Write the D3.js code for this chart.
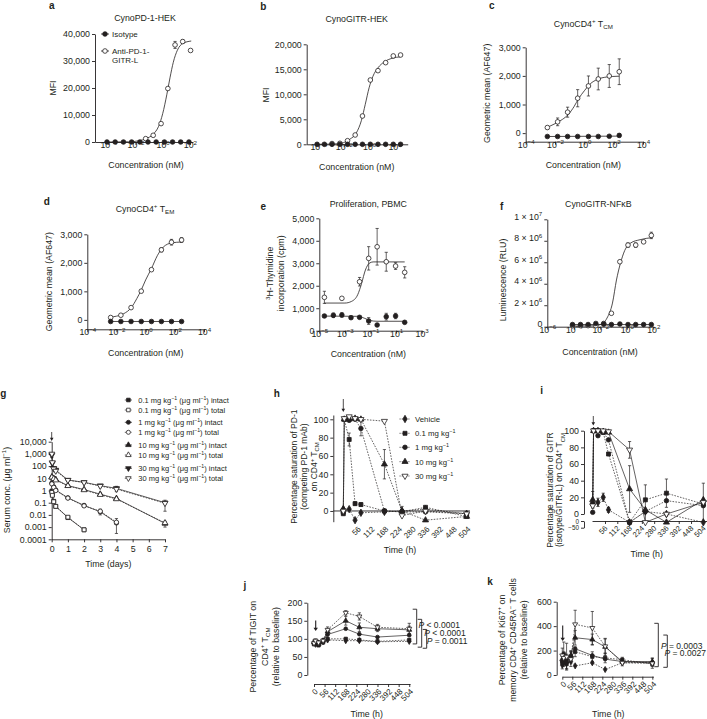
<!DOCTYPE html>
<html>
<head>
<meta charset="utf-8">
<script src="https://cdn.jsdelivr.net/npm/d3@7/dist/d3.min.js"></script>
<style>
  body { margin: 0; background: #fff; }
</style>
</head>
<body>
<script>
const INK = "#231f20";
const FONT = "Liberation Sans, Arial, Helvetica, sans-serif";
const FS = 8.8;

// ---------- data ----------
// a  CynoPD-1-HEK: concentration (nM) vs MFI
const aIsoConc  = [0.00008, 0.00032, 0.0013, 0.0052, 0.021, 0.083, 0.33, 1.33, 5.3, 21, 85];
const aIsoVal   = [0, 0, 0, 0, 0, 0, 0, 0, 0, 0, 0];
const aOpenConc = [0.056, 0.2, 0.76, 2.4, 8.1, 29.5, 112];
const aOpenVal  = [1240, 2480, 6810, 19810, 35950, 37200, 33900];
const aOpenErr  = [0, 0, 0, 0, 1300, 600, 0];
const aFit = [[0.0001, 0], [0.003, 60], [0.02, 500], [0.056, 1200], [0.2, 2900], [0.5, 5800], [1, 10500],
              [2, 17500], [3.5, 24000], [6, 29500], [12, 34000], [30, 36500], [125, 37400]];
const aLegend = ["Isotype", ["Anti-PD-1-", "GITR-L"]];

// b  CynoGITR-HEK
const bIsoConc  = [0.00008, 0.0003, 0.0012, 0.005, 0.02, 0.08, 0.3, 1.25, 5, 20, 80, 300];
const bIsoVal   = [0, 0, 0, 0, 0, 0, 0, 0, 0, 0, 0, 0];
const bOpenConc = [0.0012, 0.005, 0.02, 0.08, 0.3, 1.25, 5, 20, 80, 300];
const bOpenVal  = [150, 200, 720, 1860, 5660, 12860, 14730, 16330, 17670, 17860];
const bFit = [[0.00008, 0], [0.003, 100], [0.01, 350], [0.03, 1000], [0.1, 2300], [0.25, 4800], [0.5, 8000],
              [1, 11300], [2, 13600], [5, 15300], [16, 16500], [63, 17200], [300, 17500]];

// c  CynoCD4+ TCM
const cConc    = [0.003, 0.015, 0.072, 0.35, 1.9, 8.9, 50, 240];
const cOpen    = [195, 394, 732, 1220, 1648, 1892, 1997, 2146];
const cOpenErr = [40, 135, 175, 300, 350, 380, 400, 450];
const cIso     = [-118, -118, -118, -118, -118, -118, -110, -80];
const cIsoErr  = [0, 0, 0, 0, 0, 0, 20, 50];
const cFit = [[0.003, 200], [0.01, 330], [0.032, 480], [0.08, 650], [0.2, 930], [0.4, 1200], [1, 1480],
              [2.5, 1720], [8, 1880], [32, 1960], [240, 1990]];
const cIsoFit = [[0.003, -118], [240, -105]];

// d  CynoCD4+ TEM
const dConc    = [0.004, 0.02, 0.1, 0.5, 2.5, 12, 59, 290];
const dOpen    = [83, 163, 430, 1007, 1760, 2455, 2722, 2800];
const dOpenErr = [0, 0, 0, 0, 0, 70, 100, 80];
const dIso     = [-56, -56, -56, -56, -56, -56, -56, -56];
const dFit = [[0.004, 100], [0.01, 130], [0.032, 220], [0.1, 420], [0.25, 750], [0.5, 1050], [1, 1400],
              [2.5, 1800], [6.3, 2250], [16, 2550], [63, 2700], [290, 2730]];
const dIsoFit = [[0.004, -56], [290, -56]];

// e  Proliferation, PBMC
const eIsoConc  = [0.000025, 0.000126, 0.00058, 0.003, 0.014, 0.072, 0.33, 1.7, 9.1, 47];
const eIso      = [654, 685, 700, 580, 595, 432, 254, 624, 654, 372];
const eIsoErr   = [60, 100, 100, 0, 0, 150, 0, 150, 120, 0];
const eOpenConc = [0.000025, 0.00058, 0.014, 0.072, 0.33, 1.7, 9.1, 47];
const eOpen     = [1484, 1440, 2178, 3218, 3733, 3067, 2876, 2596];
const eOpenErr  = [270, 0, 190, 520, 815, 420, 150, 250];
const eFit = [[0.000025, 1230], [0.001, 1230], [0.0032, 1300], [0.01, 1600], [0.02, 2100], [0.04, 2700],
              [0.08, 3000], [0.16, 3060], [47, 3060]];
const eIsoFit = [[0.000025, 650], [0.01, 640], [0.032, 560], [0.1, 450], [0.32, 420], [47, 420]];

// f  CynoGITR-NFkB (RLU)
const fConc    = [0.00008, 0.00032, 0.0012, 0.0046, 0.018, 0.069, 0.3, 1.23, 4.7, 18.6, 71];
const fIso     = [2e5, 2e5, 2e5, 3e5, 2.5e5, 2e5, 2.5e5, 2e5, 2e5, 2e5, 2e5];
const fOpen    = [1e5, 1e5, 1e5, 1e5, 3e5, 1.25e6, 6.05e6, 7.6e6, 7.6e6, 7.9e6, 8.5e6];
const fOpenErr = [0, 0, 0, 0, 0, 0, 0, 2e5, 2e5, 0, 3e5];
const fFit = [[0.00008, 5e4], [0.0032, 8e4], [0.01, 2e5], [0.032, 8e5], [0.083, 2.2e6], [0.166, 4.35e6],
              [0.33, 5.9e6], [0.7, 7.1e6], [2, 7.8e6], [10, 8.1e6], [85, 8.3e6]];
const fIsoFit = [[0.00008, 2e5], [71, 2e5]];
const fYTicks = [0, 2e6, 4e6, 6e6, 8e6, 1e7];
const fYLabels = [["0", ""], ["2 \u00d7 10", "6"], ["4 \u00d7 10", "6"], ["6 \u00d7 10", "6"], ["8 \u00d7 10", "6"], ["1 \u00d7 10", "7"]];

// g  serum concentration (ug/ml) vs days
const gDays = [0.01, 0.04, 0.125, 0.25, 1, 2, 3, 4, 7];
const g01Intact = [0.9, 0.45, 0.13, 0.05, 0.006, 0.0006, null, null, null];
const g01Total  = [0.7, 0.4, 0.12, 0.05, 0.0065, 0.0006, null, null, null];
const g1Intact  = [4, null, 2, 1.1, 0.25, 0.06, 0.018, 0.0022, null];
const g1Total   = [3.5, null, 1.8, 1.0, 0.24, 0.055, 0.02, 0.0025, null];
const g10Intact = [13, null, 10, 8, 2.5, 1.2, 0.5, 0.22, 0.002];
const g10Total  = [12, null, 9, 7, 2.4, 1.1, 0.45, 0.2, 0.0022];
const g30Intact = [800, 170, 66, 48, 7.2, 4.7, 2.5, 1.5, 0.1];
const g30Total  = [1000, 200, 60, 40, 7, 4.5, 2.3, 1.3, 0.09];
const g1Err  = [null, null, null, null, null, null, [0.01, 0.03], [0.0003, 0.005], null];
const g10Err = [null, null, null, null, null, null, null, null, [0.001, 0.003]];
const g30Err = [[500, 1300], null, null, null, null, null, null, [0.8, 2.2], [0.02, 0.16]];
const gXTicks  = [0, 1, 2, 3, 4, 5, 6, 7];
const gYTicks  = [1e-4, 1e-3, 1e-2, 1e-1, 1, 10, 100, 1000, 10000];
const gYLabels = ["0.0001", "0.001", "0.01", "0.1", "1", "10", "100", "1,000", "10,000"];
const gDoses = ["0.1", "0.1", "1", "1", "10", "10", "30", "30"];
const gAssay = ["intact", "total", "intact", "total", "intact", "total", "intact", "total"];

// h  PD-1 saturation (%) vs hours
const hT = [0, 4, 24, 48, 72, 168, 240, 336, 504];
const hVeh = [2, null, 2, -10, -2, -1, 0, 2, -3];
const h01  = [-3, 100, 78, 8, 7, 0, -1, 4, -6];
const h1   = [-2, 100, 99, 100, 90, 0, -1, -1, -3];
const h10  = [2, 100, 100, 101, 100, 51, 0, -10, -6];
const h30  = [0, 101, 103, 101, 100, 98, -5, 0, -3];
const h01Err = [0, 0, 7, 2, 2, 0, 0, 0, 0];
const h1Err  = [0, 0, 2, 0, 8, 0, 0, 0, 0];
const h10Err = [0, 0, 0, 0, 0, 16, 5, 0, 0];
const hLegend = ["Vehicle", "0.1", "1", "10", "30"];

// i  GITR saturation (%) vs hours
const iVeh = [12, null, 14, 20, 5, -10, 3, 0, -10];
const i01  = [12, 100, 100, 98, 72, -10, 17, 25, 12];
const i1   = [2, 100, 94, 98, 89, -10, 3, 16, 10];
const i10  = [17, 100, 100, 99, 98, 30, 5, -10, 17];
const i30  = [10, 100, 100, 100, 99, 77, -10, 0, 14];
const iVehErr = [0, 0, 5, 5, 3, 0, 0, 0, 0];
const i01Err  = [4, 0, 0, 0, 0, 0, 18, 17, 0];
const i10Err  = [10, 0, 0, 0, 0, 28, 0, 0, 20];
const i30Err  = [0, 0, 0, 0, 0, 10, 0, 0, 0];

// j  TIGIT (% of baseline)
const jT = [0, 8, 24, 48, 72, 168, 240, 336, 504];
const j30  = [88, 95, 90, 95, 125, 172, 162, 132, 128];
const j10  = [90, 90, 85, 95, 120, 150, 132, 128, 125];
const j1   = [88, 92, 88, 95, 112, 128, 113, 105, 110];
const j01  = [85, 88, 82, 90, 100, 100, 97, 93, 97];
const jVeh = [90, 85, 88, 92, 97, 95, 95, 92, 93];
const j30Err = [5, 5, 5, 5, 8, 6, 10, 8, 15];
const j10Err = [5, 5, 5, 5, 8, 12, 12, 8, 10];
const jBrackets = [[182, 86], [154, 77], [126, 74]];
const jP = ["< 0.0001", "< 0.0001", "= 0.0011"];

// k  Ki67 (% of baseline)
const k30  = [160, 140, 150, 130, 415, 385, 235, 100, 95];
const k10  = [130, 120, 110, 160, 305, 290, 230, 110, 110];
const k1   = [110, 100, 120, 140, 215, 160, 130, 110, 100];
const k01  = [100, 170, 90, 150, 190, 150, 140, 125, 90];
const kVeh = [80, 120, 100, 110, 75, 100, 45, 100, 105];
const k30Err = [60, 50, 110, 60, 115, 135, 60, 25, 40];
const k10Err = [40, 40, 60, 40, 60, 45, 70, 20, 30];
const k01Err = [50, 100, 40, 40, 40, 40, 40, 20, 20];
const kBrackets = [[423, 68], [327, 63]];
const kP = ["= 0.0003", "= 0.0027"];

const timeTicks = [0, 56, 112, 168, 224, 280, 336, 392, 448, 504];

// ---------- helpers ----------
const svg = d3.select("body").append("svg")
  .attr("width", 707).attr("height", 719)
  .style("font-family", FONT);

// parts: [[string, "n" | "sup" | "sub" | "i"], ...]
function rich(t, parts, fs) {
  let cur = 0;
  t.text(null);
  parts.forEach(([s, k]) => {
    const off = k === "sup" ? -fs * 0.38 : k === "sub" ? fs * 0.28 : 0;
    const small = k === "sup" || k === "sub";
    const sp = t.append("tspan").attr("dy", off - cur).attr("font-size", small ? fs * 0.7 : fs).text(s);
    if (k === "i") sp.attr("font-style", "italic");
    cur = off;
  });
  return t;
}

function text(g, x, y, parts, o = {}) {
  const fs = o.fs || FS;
  const t = g.append("text").attr("x", x).attr("y", y).attr("fill", INK)
    .attr("font-size", fs).attr("text-anchor", o.anchor || "middle")
    .attr("font-weight", o.bold ? "bold" : null);
  return rich(t, typeof parts === "string" ? [[parts, "n"]] : parts, fs);
}

// rotated axis title; xs = screen x of each line
function yTitle(g, xs, cy, lines, fs = FS) {
  lines.forEach((parts, i) => {
    const t = g.append("text").attr("transform", `translate(${xs[i]},${cy}) rotate(-90)`)
      .attr("y", fs * 0.35).attr("text-anchor", "middle").attr("fill", INK).attr("font-size", fs);
    rich(t, typeof parts === "string" ? [[parts, "n"]] : parts, fs);
  });
}

const SYM = { circle: d3.symbolCircle, square: d3.symbolSquare, diamond: d3.symbolDiamond,
              up: d3.symbolTriangle, down: d3.symbolTriangle };
function marker(g, kind, filled, x, y, size) {
  g.append("path").attr("d", d3.symbol(SYM[kind], size)())
    .attr("transform", `translate(${x},${y})` + (kind === "down" ? " rotate(180)" : ""))
    .attr("fill", filled ? INK : "#fff").attr("stroke", INK).attr("stroke-width", 0.8);
}

function errBar(g, x, y1, y2, cap = 1.6) {
  g.append("path")
    .attr("d", `M${x},${y1}V${y2}M${x - cap},${y1}H${x + cap}M${x - cap},${y2}H${x + cap}`)
    .attr("stroke", INK).attr("stroke-width", 0.7).attr("fill", "none");
}

function arrow(g, x, y1, y2, w = 0.8, head = 1.8) {
  g.append("path").attr("d", `M${x},${y1}V${y2 - 2}`).attr("stroke", INK).attr("stroke-width", w);
  g.append("path").attr("d", `M${x - head},${y2 - 3.2}L${x},${y2}L${x + head},${y2 - 3.2}Z`).attr("fill", INK);
}

function styleAxis(a) {
  a.attr("font-family", null).attr("font-size", null);
  a.select(".domain").attr("stroke", INK).attr("stroke-width", 0.9);
  a.selectAll(".tick line").attr("stroke", INK).attr("stroke-width", 0.9);
  a.selectAll(".tick text").attr("fill", INK).attr("font-size", FS);
}

function powLabel(sel) {
  sel.each(function (d) {
    const e = Math.round(Math.log10(d));
    rich(d3.select(this), [["10", "n"], [e < 0 ? "\u2212" + (-e) : String(e), "sup"]], FS);
  });
}

function drawSeries(g, xf, yf, times, vals, errs, kind, filled, dash, size) {
  const pts = times.map((t, i) => [t, vals[i], errs ? errs[i] : null]).filter(d => d[1] != null);
  g.append("path").attr("d", d3.line().x(d => xf(d[0])).y(d => yf(d[1]))(pts))
    .attr("fill", "none").attr("stroke", INK).attr("stroke-width", 0.7)
    .attr("stroke-dasharray", dash ? "1.6,1.3" : null);
  pts.forEach(d => {
    if (!d[2]) return;
    const [lo, hi] = Array.isArray(d[2]) ? d[2] : [d[1] - d[2], d[1] + d[2]];
    errBar(g, xf(d[0]), yf(lo), yf(hi));
  });
  pts.forEach(d => marker(g, kind, filled, xf(d[0]), yf(d[1]), size));
}

function timeAxis(g, x, yPos, ticks, showLine, fs = 8, dx = 2) {
  const a = g.append("g").attr("transform", `translate(0,${yPos})`)
    .call(d3.axisBottom(x).tickValues(ticks).tickSize(showLine ? 3 : 0).tickSizeOuter(0))
    .call(styleAxis);
  if (!showLine) a.select(".domain").remove();
  a.selectAll(".tick text").attr("y", null).attr("dy", "0.35em").attr("text-anchor", "end")
    .attr("font-size", fs).attr("transform", `translate(${dx},6) rotate(-45)`);
}

function dosePanel(p) {
  const g = svg.append("g");
  const x = d3.scaleLog().domain(p.xDomain).range(p.xRange);
  const y = d3.scaleLinear().domain(p.yDomain).range(p.yRange);
  g.append("g").attr("transform", `translate(0,${p.yRange[0]})`)
    .call(d3.axisBottom(x).tickValues(p.xTicks).tickSize(3).tickSizeOuter(0))
    .call(styleAxis)
    .call(a => a.selectAll(".tick text").call(powLabel));
  const ya = g.append("g").attr("transform", `translate(${p.xRange[0]},0)`)
    .call(d3.axisLeft(y).tickValues(p.yTicks).tickSize(3).tickPadding(2).tickSizeOuter(0)
      .tickFormat(d3.format(",")))
    .call(styleAxis);
  if (p.yRich) ya.selectAll(".tick text").each(function (d, i) {
    const [base, sup] = p.yRich[i];
    rich(d3.select(this), sup ? [[base, "n"], [sup, "sup"]] : [[base, "n"]], FS);
  });
  const line = d3.line().x(d => x(d[0])).y(d => y(d[1])).curve(d3.curveMonotoneX);
  p.fits.forEach(f => g.append("path").attr("d", line(f))
    .attr("fill", "none").attr("stroke", INK).attr("stroke-width", 0.8));
  p.series.forEach(s => s.conc.forEach((c, i) => {
    const v = s.val[i];
    if (s.err && s.err[i]) errBar(g, x(c), y(v - s.err[i]), y(v + s.err[i]));
    marker(g, "circle", s.filled, x(c), y(v), 17);
  }));
  text(g, p.title[0], p.title[1], p.title[2]);
  text(g, p.xTitle[0], p.xTitle[1], "Concentration (nM)");
  yTitle(g, p.yTitle[0], p.yTitle[1], p.yTitle[2]);
  text(g, p.letter[0], p.letter[1], p.letter[2], { bold: true, fs: 10 });
  return g;
}

const cd4 = sub => [["CynoCD4", "n"], ["+", "sup"], [" T", "n"], [sub, "sub"]];

// ---------- a ----------
const ga = dosePanel({
  xDomain: [1.052e-5, 169], xRange: [95, 193], xTicks: [1e-4, 1e-2, 1, 1e2],
  yDomain: [0, 40000], yRange: [142, 34], yTicks: [0, 10000, 20000, 30000, 40000],
  fits: [aFit],
  series: [{ conc: aOpenConc, val: aOpenVal, err: aOpenErr, filled: false },
           { conc: aIsoConc, val: aIsoVal, filled: true }],
  title: [145, 21, "CynoPD-1-HEK"], xTitle: [146, 168],
  yTitle: [[53], 88, ["MFI"]], letter: [51.7, 8.5, "a"]
});
[[34, true], [51, false]].forEach(([yy, f]) => {
  ga.append("path").attr("d", `M101,${yy}H109`).attr("stroke", INK).attr("stroke-width", 0.8);
  marker(ga, "circle", f, 105, yy, 17);
});
text(ga, 112, 37, aLegend[0], { anchor: "start", fs: 8 });
text(ga, 112, 54, aLegend[1][0], { anchor: "start", fs: 8 });
text(ga, 112, 63, aLegend[1][1], { anchor: "start", fs: 8 });

// ---------- b ----------
dosePanel({
  xDomain: [1.22e-5, 1094], xRange: [306.7, 407.7], xTicks: [1e-4, 1e-2, 1, 1e2],
  yDomain: [0, 20000], yRange: [144.3, 44.3], yTicks: [0, 5000, 10000, 15000, 20000],
  fits: [bFit],
  series: [{ conc: bOpenConc, val: bOpenVal, filled: false },
           { conc: bIsoConc, val: bIsoVal, filled: true }],
  title: [356.7, 21.5, "CynoGITR-HEK"], xTitle: [356.7, 170],
  yTitle: [[266], 95, ["MFI"]], letter: [263.3, 9.5, "b"]
});

// ---------- c ----------
dosePanel({
  xDomain: [1e-4, 1e4], xRange: [525.7, 643], xTicks: [1e-4, 1e-2, 1, 1e2, 1e4],
  yDomain: [-300, 3000], yRange: [141.7, 47.3], yTicks: [0, 1000, 2000, 3000],
  fits: [cFit, cIsoFit],
  series: [{ conc: cConc, val: cOpen, err: cOpenErr, filled: false },
           { conc: cConc, val: cIso, err: cIsoErr, filled: true }],
  title: [583.3, 26.5, cd4("CM")], xTitle: [583.3, 167.5],
  yTitle: [[486.7], 93.3, ["Geometric mean (AF647)"]], letter: [491.7, 8.5, "c"]
});

// ---------- d ----------
dosePanel({
  xDomain: [1e-4, 1e4], xRange: [87.3, 204], xTicks: [1e-4, 1e-2, 1, 1e2, 1e4],
  yDomain: [-330, 3000], yRange: [329.3, 234.3], yTicks: [0, 1000, 2000, 3000],
  fits: [dFit, dIsoFit],
  series: [{ conc: dConc, val: dOpen, err: dOpenErr, filled: false },
           { conc: dConc, val: dIso, filled: true }],
  title: [145, 211.5, cd4("EM")], xTitle: [145.7, 356],
  yTitle: [[49.3], 281.7, ["Geometric mean (AF647)"]], letter: [46.7, 205, "d"]
});

// ---------- e ----------
dosePanel({
  xDomain: [1e-5, 1e3], xRange: [319.3, 421.7], xTicks: [1e-5, 1e-3, 1e-1, 1e1, 1e3],
  yDomain: [0, 5000], yRange: [330.7, 218.3], yTicks: [0, 1000, 2000, 3000, 4000, 5000],
  fits: [eFit, eIsoFit],
  series: [{ conc: eOpenConc, val: eOpen, err: eOpenErr, filled: false },
           { conc: eIsoConc, val: eIso, err: eIsoErr, filled: true }],
  title: [368.3, 206.5, "Proliferation, PBMC"], xTitle: [368.3, 357.2],
  yTitle: [[270, 280.5], 273.3, [[["3", "sup"], ["H-Thymidine", "n"]], "incorporation (cpm)"]],
  letter: [263.3, 210, "e"]
});

// ---------- f ----------
dosePanel({
  xDomain: [1e-6, 1e2], xRange: [547.3, 653.3], xTicks: [1e-6, 1e-4, 1e-2, 1, 1e2],
  yDomain: [0, 1e7], yRange: [326.7, 219.3], yTicks: fYTicks, yRich: fYLabels,
  fits: [fFit, fIsoFit],
  series: [{ conc: fConc, val: fOpen, err: fOpenErr, filled: false },
           { conc: fConc, val: fIso, filled: true }],
  title: [598.3, 206.5, [["CynoGITR-NF\u03baB", "n"]]], xTitle: [600, 355],
  yTitle: [[503.3], 280, ["Luminescence (RLU)"]], letter: [501.7, 210, "f"]
});

// ---------- g ----------
{
  const g = svg.append("g");
  const x = d3.scaleLinear().domain([0, 7]).range([51.7, 165]);
  const y = d3.scaleLog().domain([1e-4, 1e4]).range([539.3, 441.7]);
  g.append("g").attr("transform", "translate(0,539.3)")
    .call(d3.axisBottom(x).tickValues(gXTicks).tickSize(3).tickSizeOuter(0).tickFormat(d3.format("d")))
    .call(styleAxis);
  g.append("g").attr("transform", "translate(51.7,0)")
    .call(d3.axisLeft(y).tickValues(gYTicks).tickSize(3).tickPadding(2).tickSizeOuter(0)
      .tickFormat((d, i) => gYLabels[i])).call(styleAxis);
  const ser = [
    [g01Intact, null, "square", true, false], [g01Total, null, "square", false, true],
    [g1Intact, g1Err, "circle", true, false], [g1Total, null, "circle", false, true],
    [g10Intact, g10Err, "up", true, false], [g10Total, null, "up", false, true],
    [g30Intact, g30Err, "down", true, false], [g30Total, null, "down", false, true]
  ];
  ser.forEach(([v, e, k, f, dash]) => drawSeries(g, x, y, gDays, v, e, k, f, dash, 15));
  arrow(g, 51.7, 432, 441);
  text(g, 108.3, 566.5, "Time (days)");
  yTitle(g, [6.7], 490, [[["Serum conc. (\u03bcg ml", "n"], ["\u22121", "sup"], [")", "n"]]]);
  text(g, 3.3, 397, "g", { bold: true, fs: 10 });
  const rows = [400, 410, 422.3, 432.3, 445, 455, 468.3, 478.3];
  ser.forEach(([, , k, f, dash], i) => {
    g.append("path").attr("d", `M124.8,${rows[i]}H132`).attr("stroke", INK).attr("stroke-width", 0.7)
      .attr("stroke-dasharray", dash ? "1.2,1" : null);
    marker(g, k, f, 128.4, rows[i], 13);
    text(g, 138.3, rows[i] + 2.6, [[gDoses[i] + " mg kg", "n"], ["\u22121", "sup"], [" (\u03bcg ml", "n"],
      ["\u22121", "sup"], [") " + gAssay[i], "n"]], { anchor: "start", fs: 7.5 });
  });
}

const doseKinds = [["diamond", true], ["square", true], ["circle", true], ["up", true], ["down", false]];

// ---------- h ----------
{
  const g = svg.append("g");
  const x = d3.scaleLinear().domain([-40.9, 517.8]).range([333.3, 470]);
  const y = d3.scaleLinear().domain([-11.7, 104.7]).range([521.7, 415]);
  g.append("g").attr("transform", "translate(333.3,0)")
    .call(d3.axisLeft(y).tickValues([0, 20, 40, 60, 80, 100]).tickSize(3).tickPadding(2).tickSizeOuter(0))
    .call(styleAxis);
  timeAxis(g, x, 521.7, timeTicks.slice(1), false, 7.8);
  g.append("path").attr("d", `M333.3,${y(0)}H470`).attr("stroke", INK).attr("stroke-width", 0.9);
  const ser = [[hVeh, null], [h01, h01Err], [h1, h1Err], [h10, h10Err], [h30, null]];
  ser.forEach(([v, e], i) => drawSeries(g, x, y, hT, v, e, doseKinds[i][0], doseKinds[i][1], true, 16));
  arrow(g, 343.3, 399, 412);
  text(g, 400, 552.5, "Time (h)");
  yTitle(g, [294, 304, 314], 466.7, ["Percentage saturation of PD-1", "(competing PD-1 mAb)",
    [["on CD4", "n"], ["+", "sup"], [" T", "n"], ["CM", "sub"]]], 8.5);
  text(g, 276.7, 397, "h", { bold: true, fs: 10 });
  const rows = [419, 433.3, 447.3, 461.7, 476];
  hLegend.forEach((lab, i) => {
    g.append("path").attr("d", `M399.5,${rows[i]}H410.5`).attr("stroke", INK).attr("stroke-width", 0.7)
      .attr("stroke-dasharray", "1.2,1");
    marker(g, doseKinds[i][0], doseKinds[i][1], 405, rows[i], 16);
    const parts = i === 0 ? [[lab, "n"]] : [[lab + " mg kg", "n"], ["\u22121", "sup"]];
    text(g, 415, rows[i] + 2.8, parts, { anchor: "start", fs: 7.8 });
  });
}

// ---------- i ----------
{
  const g = svg.append("g");
  const x = d3.scaleLinear().domain([-3, 519]).range([592.04, 706.62]);
  const yUp = d3.scaleLinear().domain([0, 100]).range([514, 430.7]);
  const yLow = d3.scaleLinear().domain([-50, 0]).range([527.7, 521]);
  const y = v => (v >= 0 ? yUp(v) : yLow(v));
  g.append("g").attr("transform", "translate(584,0)")
    .call(d3.axisLeft(yUp).tickValues([0, 20, 40, 60, 80, 100]).tickSize(3).tickPadding(2).tickSizeOuter(0))
    .call(styleAxis);
  g.append("g").attr("transform", "translate(584,0)")
    .call(d3.axisLeft(yLow).tickValues([-50, 0]).tickSize(3).tickPadding(2).tickSizeOuter(0))
    .call(styleAxis)
    .call(a => a.selectAll(".tick text").attr("font-size", 6.3));
  timeAxis(g, x, 521, timeTicks.slice(1), true, 7.5, 0.5);
  const ser = [[iVeh, iVehErr, true], [i01, i01Err, true], [i1, null, true], [i10, i10Err, false], [i30, i30Err, false]];
  ser.forEach(([v, e, dash], i) => drawSeries(g, x, y, hT, v, e, doseKinds[i][0], doseKinds[i][1], dash, 16));
  arrow(g, 593.3, 416, 425.5);
  text(g, 646.7, 556.5, "Time (h)");
  yTitle(g, [550, 559.5], 490, ["Percentage saturation of GITR",
    [["(isotype/GITR-L) on CD4", "n"], ["+", "sup"], [" T", "n"], ["CM", "sub"]]], 8.5);
  text(g, 541.7, 393.5, "i", { bold: true, fs: 10 });
}

function bracketSet(g, y, xs, ranges, pLabels, pPos) {
  ranges.forEach(([hi, lo], i) => {
    g.append("path").attr("d", `M${xs[i] - 4},${y(hi)}H${xs[i]}V${y(lo)}H${xs[i] - 4}`)
      .attr("fill", "none").attr("stroke", INK).attr("stroke-width", 0.9);
  });
  pLabels.forEach((s, i) => text(g, pPos[i][0], pPos[i][1], [["P", "i"], [" " + s, "n"]], { anchor: "start", fs: 8.5 }));
}

// ---------- j ----------
{
  const g = svg.append("g");
  const x = d3.scaleLinear().domain([0, 508]).range([314, 410]);
  const y = d3.scaleLinear().domain([0, 200]).range([675, 602.7]);
  g.append("g").attr("transform", "translate(307.3,0)")
    .call(d3.axisLeft(y).tickValues([0, 50, 100, 150, 200]).tickSize(3).tickPadding(2).tickSizeOuter(0))
    .call(styleAxis);
  timeAxis(g, x, 684, timeTicks, true);
  const ser = [[jVeh, null, true], [j01, null, true], [j1, null, false], [j10, j10Err, false], [j30, j30Err, true]];
  ser.forEach(([v, e, dash], i) => drawSeries(g, x, y, jT, v, e, doseKinds[i][0], doseKinds[i][1], dash, 11));
  arrow(g, 315.7, 620.5, 631, 1.1, 2.2);
  bracketSet(g, y, [416.7, 421.7, 426.7], jBrackets, jP, [[418.5, 628], [424.3, 636], [426.7, 644]]);
  text(g, 366.7, 716.5, "Time (h)");
  yTitle(g, [253.3, 264.5, 275.5], 646.7, ["Percentage of TIGIT on",
    [["CD4", "n"], ["+", "sup"], [" T", "n"], ["CM", "sub"]], "(relative to baseline)"]);
  text(g, 245, 589, "j", { bold: true, fs: 10 });
}

// ---------- k ----------
{
  const g = svg.append("g");
  const x = d3.scaleLinear().domain([0, 510]).range([562.3, 653.4]);
  const y = d3.scaleLinear().domain([0, 600]).range([675, 601.7]);
  g.append("g").attr("transform", "translate(556.7,0)")
    .call(d3.axisLeft(y).tickValues([0, 200, 400, 600]).tickSize(3).tickPadding(2).tickSizeOuter(0))
    .call(styleAxis);
  timeAxis(g, x, 676.7, timeTicks, true);
  const ser = [[kVeh, null, true], [k01, k01Err, true], [k1, null, false], [k10, k10Err, false], [k30, k30Err, true]];
  ser.forEach(([v, e, dash], i) => drawSeries(g, x, y, jT, v, e, doseKinds[i][0], doseKinds[i][1], dash, 11));
  arrow(g, 562.7, 625.5, 641, 1.1, 2.2);
  bracketSet(g, y, [658.3, 667.3], kBrackets, kP, [[661, 648.5], [664.5, 655.5]]);
  text(g, 608.3, 716.5, "Time (h)");
  yTitle(g, [501.7, 513, 524], 640, [[["Percentage of Ki67", "n"], ["+", "sup"], [" on", "n"]],
    [["memory CD4", "n"], ["+", "sup"], [" CD45RA", "n"], ["\u2212", "sup"], [" T cells", "n"]],
    "(relative to baseline)"]);
  text(g, 490, 585, "k", { bold: true, fs: 10 });
}
</script>
</body>
</html>
